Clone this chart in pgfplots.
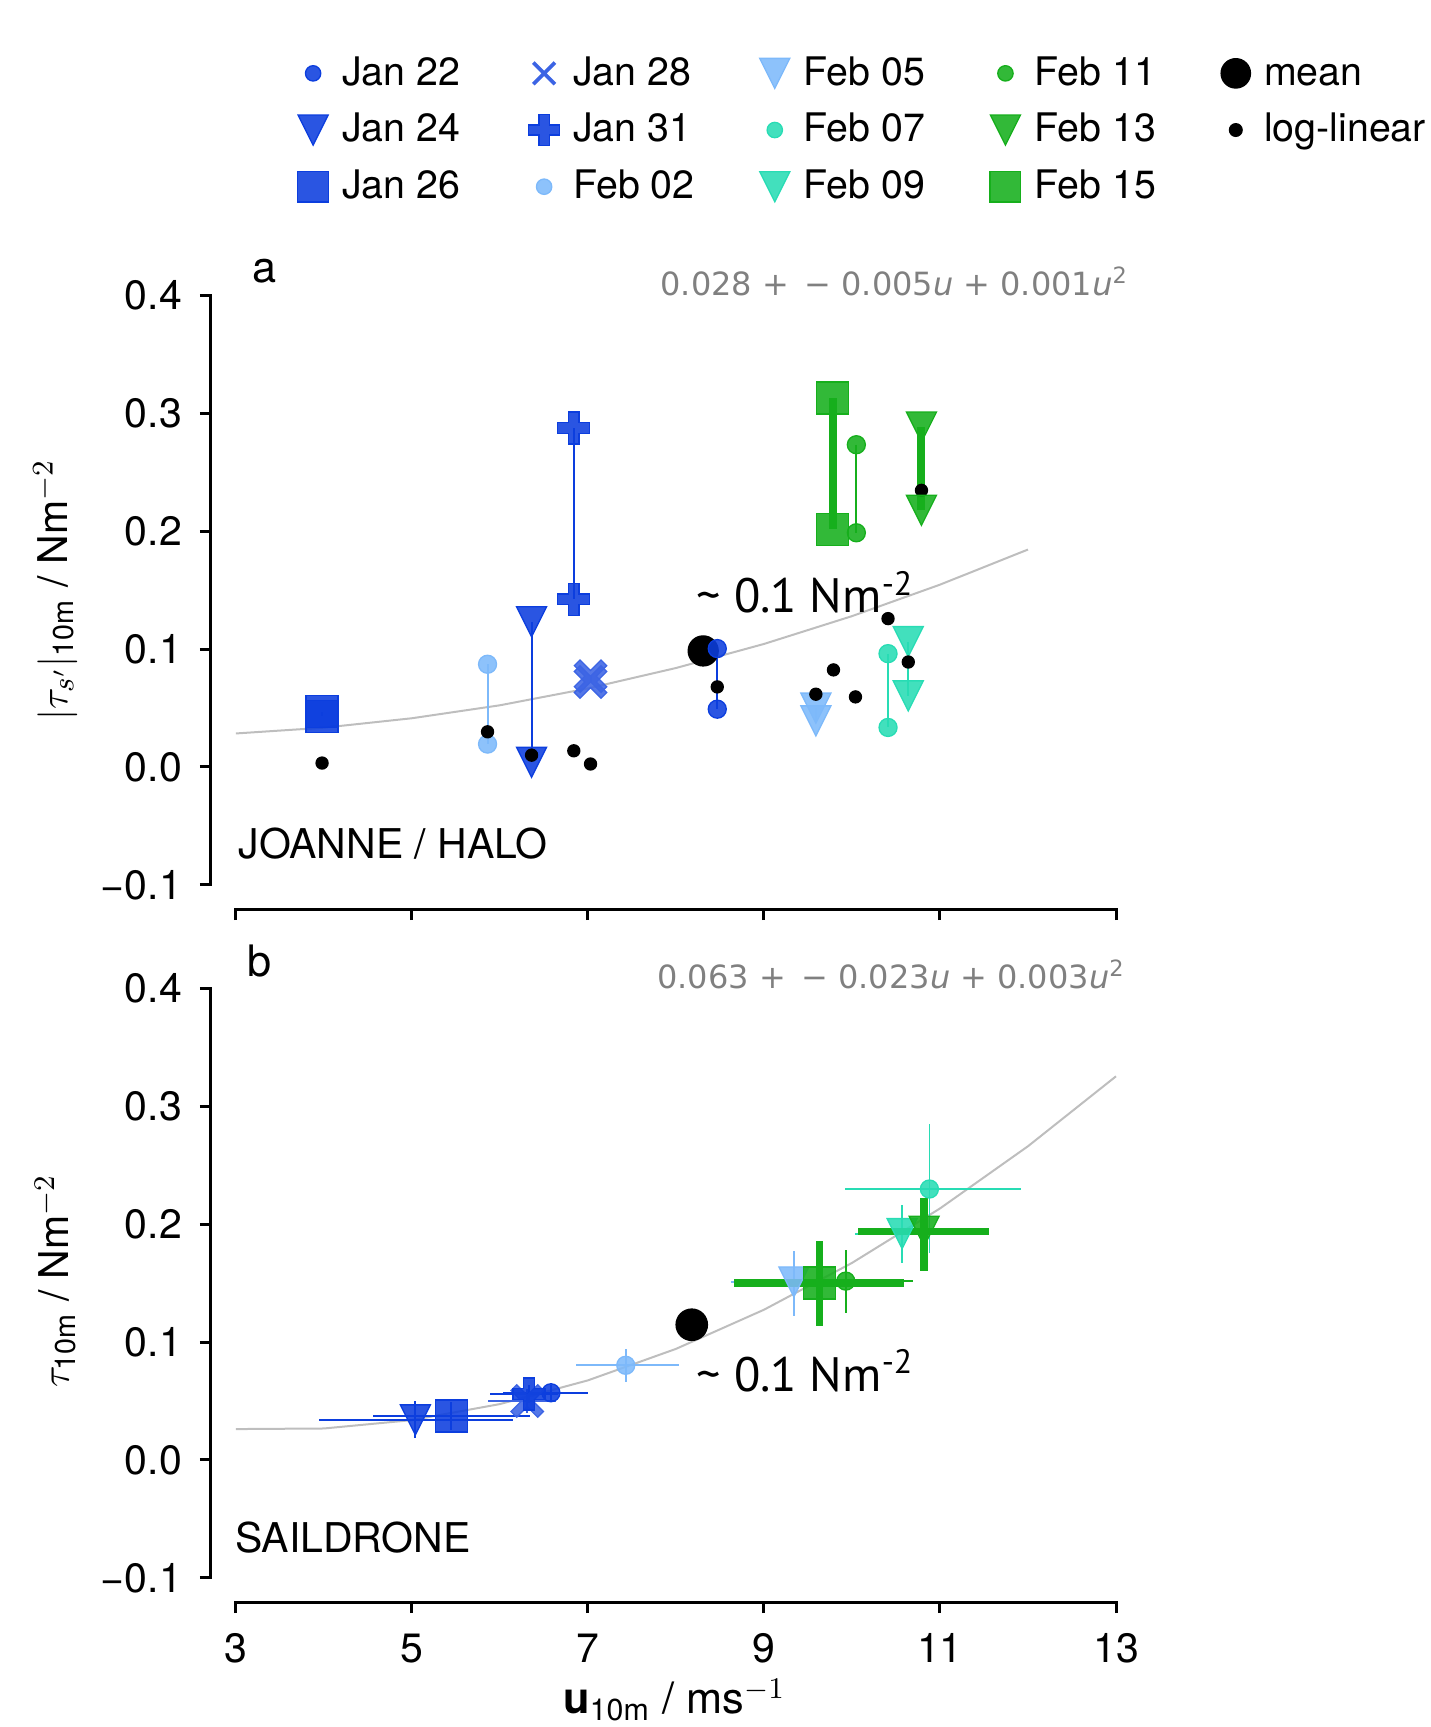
\documentclass[border=0pt]{standalone}
\usepackage{fontspec}
\setmainfont{TeX Gyre Heros}
\newfontfamily\dejavu{DejaVu Sans}
\newfontfamily\ptsans{PT Sans}
\usepackage{amsmath}
\usepackage{pgfplots}
\pgfplotsset{compat=1.18}

\definecolor{cblue}{RGB}{12,62,222}
\definecolor{cxblue}{RGB}{60,100,228}
\definecolor{clight}{RGB}{125,185,250}
\definecolor{cturq}{RGB}{40,220,180}
\definecolor{cgreen}{RGB}{22,175,28}
\definecolor{cfit}{RGB}{190,190,190}
\definecolor{cform}{RGB}{128,128,128}

\pgfdeclareplotmark{vtri}{%
 \pgfpathmoveto{\pgfqpoint{0pt}{-\pgfplotmarksize}}%
 \pgfpathlineto{\pgfqpoint{-\pgfplotmarksize}{\pgfplotmarksize}}%
 \pgfpathlineto{\pgfqpoint{\pgfplotmarksize}{\pgfplotmarksize}}%
 \pgfpathclose\pgfusepathqfillstroke}
\pgfdeclareplotmark{Pplus}{%
 \pgfpathmoveto{\pgfqpoint{-0.333\pgfplotmarksize}{-\pgfplotmarksize}}%
 \pgfpathlineto{\pgfqpoint{0.333\pgfplotmarksize}{-\pgfplotmarksize}}%
 \pgfpathlineto{\pgfqpoint{0.333\pgfplotmarksize}{-0.333\pgfplotmarksize}}%
 \pgfpathlineto{\pgfqpoint{\pgfplotmarksize}{-0.333\pgfplotmarksize}}%
 \pgfpathlineto{\pgfqpoint{\pgfplotmarksize}{0.333\pgfplotmarksize}}%
 \pgfpathlineto{\pgfqpoint{0.333\pgfplotmarksize}{0.333\pgfplotmarksize}}%
 \pgfpathlineto{\pgfqpoint{0.333\pgfplotmarksize}{\pgfplotmarksize}}%
 \pgfpathlineto{\pgfqpoint{-0.333\pgfplotmarksize}{\pgfplotmarksize}}%
 \pgfpathlineto{\pgfqpoint{-0.333\pgfplotmarksize}{0.333\pgfplotmarksize}}%
 \pgfpathlineto{\pgfqpoint{-\pgfplotmarksize}{0.333\pgfplotmarksize}}%
 \pgfpathlineto{\pgfqpoint{-\pgfplotmarksize}{-0.333\pgfplotmarksize}}%
 \pgfpathlineto{\pgfqpoint{-0.333\pgfplotmarksize}{-0.333\pgfplotmarksize}}%
 \pgfpathclose\pgfusepathqfillstroke}
\pgfdeclareplotmark{Xfill}{%
 \pgfpathmoveto{\pgfqpoint{0pt}{0.34\pgfplotmarksize}}%
 \pgfpathlineto{\pgfqpoint{0.63\pgfplotmarksize}{0.97\pgfplotmarksize}}%
 \pgfpathlineto{\pgfqpoint{0.97\pgfplotmarksize}{0.63\pgfplotmarksize}}%
 \pgfpathlineto{\pgfqpoint{0.34\pgfplotmarksize}{0pt}}%
 \pgfpathlineto{\pgfqpoint{0.97\pgfplotmarksize}{-0.63\pgfplotmarksize}}%
 \pgfpathlineto{\pgfqpoint{0.63\pgfplotmarksize}{-0.97\pgfplotmarksize}}%
 \pgfpathlineto{\pgfqpoint{0pt}{-0.34\pgfplotmarksize}}%
 \pgfpathlineto{\pgfqpoint{-0.63\pgfplotmarksize}{-0.97\pgfplotmarksize}}%
 \pgfpathlineto{\pgfqpoint{-0.97\pgfplotmarksize}{-0.63\pgfplotmarksize}}%
 \pgfpathlineto{\pgfqpoint{-0.34\pgfplotmarksize}{0pt}}%
 \pgfpathlineto{\pgfqpoint{-0.97\pgfplotmarksize}{0.63\pgfplotmarksize}}%
 \pgfpathlineto{\pgfqpoint{-0.63\pgfplotmarksize}{0.97\pgfplotmarksize}}%
 \pgfpathclose\pgfusepathqfillstroke}

\newcommand{\lbl}[1]{\makebox[40pt][l]{#1\vphantom{Jg}}}

\pgfplotsset{
  panel/.style={
    scale only axis, width=271.5pt, height=184.1pt,
    xmin=2.718, xmax=13, ymin=-0.1205, ymax=0.4,
    axis x line*=bottom, axis y line*=left, axis line style={draw=none},
    tick align=outside, major tick length=3.3pt,
    tick style={line width=0.9pt, black},
    xtick={3,5,7,9,11,13}, ytick={-0.1,0,0.1,0.2,0.3,0.4},
    yticklabels={−0.1,0.0,0.1,0.2,0.3,0.4},
    tick label style={font=\fontsize{12.3}{14}\selectfont},
    yticklabel style={xshift=-1.9pt},
    label style={font=\fontsize{12.3}{14}\selectfont},
    clip=false,
  },
  mk/.style={mark options={solid, fill opacity=0.88, line width=0.4pt}},
  lm/.style={only marks, legend image code/.code={\draw[mark repeat=2,mark phase=2,##1] plot coordinates {(0pt,0pt)(4.5pt,0pt)(9pt,0pt)};}},
  eb/.style={only marks, forget plot,
    error bars/x dir=both, error bars/x explicit,
    error bars/y dir=both, error bars/y explicit,
    error bars/error mark=none,
    error bars/error bar style={line width=#1, solid}},
}

\begin{document}
\begin{tikzpicture}
\useasboundingbox (-63.3pt,-429.5pt) rectangle (365.7pt,88.6pt);

% ---------------- panel a ----------------
\begin{axis}[panel, at={(0pt,0pt)}, anchor=north west,
  xticklabels={},
  ylabel={$|\tau_{s'}|_{\text{10m}}$ / Nm$^{-2}$},
  ylabel style={at={(rel axis cs:-0.172,0.52)}, anchor=center},
  legend columns=5, legend cell align=left,
  legend style={draw=none, fill=none, at={(rel axis cs:0.0959,1.40)}, anchor=north west,
    inner sep=0pt, outer sep=0pt, row sep=2.9pt,
    font=\fontsize{11.8}{14}\selectfont, nodes={inner sep=2pt},
    /tikz/every odd column/.append style={column sep=2.1pt},
    /tikz/every even column/.append style={column sep=14.0pt}},
]
\addlegendimage{lm, mark=*, cblue, mark size=2.3pt, mk}
\addlegendentry{\lbl{Jan 22}}
\addlegendimage{lm, mark=x, cxblue, mark size=4.6pt, mark options={line width=1.1pt}}
\addlegendentry{\lbl{Jan 28}}
\addlegendimage{lm, mark=vtri, clight, mark size=4.5pt, mk}
\addlegendentry{\lbl{Feb 05}}
\addlegendimage{lm, mark=*, cgreen, mark size=2.3pt, mk}
\addlegendentry{\lbl{Feb 11}}
\addlegendimage{lm, mark=*, black, mark size=4.4pt}
\addlegendentry{mean\vphantom{Jg}}
\addlegendimage{lm, mark=vtri, cblue, mark size=4.5pt, mk}
\addlegendentry{\lbl{Jan 24}}
\addlegendimage{lm, mark=Pplus, cblue, mark size=4.6pt, mk}
\addlegendentry{\lbl{Jan 31}}
\addlegendimage{lm, mark=*, cturq, mark size=2.3pt, mk}
\addlegendentry{\lbl{Feb 07}}
\addlegendimage{lm, mark=vtri, cgreen, mark size=4.5pt, mk}
\addlegendentry{\lbl{Feb 13}}
\addlegendimage{lm, mark=*, black, mark size=1.9pt}
\addlegendentry{log-linear\vphantom{J}}
\addlegendimage{lm, mark=square*, cblue, mark size=4.6pt, mk}
\addlegendentry{\lbl{Jan 26}}
\addlegendimage{lm, mark=*, clight, mark size=2.3pt, mk}
\addlegendentry{\lbl{Feb 02}}
\addlegendimage{lm, mark=vtri, cturq, mark size=4.5pt, mk}
\addlegendentry{\lbl{Feb 09}}
\addlegendimage{lm, mark=square*, cgreen, mark size=4.6pt, mk}
\addlegendentry{\lbl{Feb 15}}

% quadratic fit
\addplot[cfit, line width=0.6pt, forget plot] coordinates {(3,0.0284)(4,0.0333)(5,0.0413)(6,0.0523)(7,0.0666)(8,0.0839)(9,0.1043)(10,0.1279)(11,0.1546)(12,0.1844)};
% mean
\addplot[only marks, mark=*, black, mark size=4.5pt, forget plot] coordinates {(8.31,0.0984)};
% days
\addplot[cblue, line width=0.6pt, mk, mark=square*, mark size=4.8pt, forget plot] coordinates {(3.98,0.047)(3.98,0.043)};
\addplot[clight, line width=0.6pt, mk, mark=*, mark size=2.7pt, forget plot] coordinates {(5.86,0.0871)(5.86,0.0194)};
\addplot[cblue, line width=0.6pt, mk, mark=vtri, mark size=4.5pt, forget plot] coordinates {(6.36,0.1232)(6.36,0.0039)};
\addplot[cblue, line width=0.6pt, mk, mark=Pplus, mark size=4.8pt, forget plot] coordinates {(6.84,0.2874)(6.84,0.1421)};
\addplot[cxblue, line width=0.6pt, mk, mark=Xfill, mark size=5pt, forget plot] coordinates {(7.03,0.077)(7.03,0.072)};
\addplot[cblue, line width=0.6pt, mk, mark=*, mark size=2.7pt, forget plot] coordinates {(8.47,0.1004)(8.47,0.049)};
\addplot[clight, line width=0.6pt, mk, mark=vtri, mark size=4.5pt, forget plot] coordinates {(9.59,0.0499)(9.59,0.0391)};
\addplot[cturq, line width=0.6pt, mk, mark=*, mark size=2.7pt, forget plot] coordinates {(10.41,0.0961)(10.41,0.0335)};
\addplot[cturq, line width=0.6pt, mk, mark=vtri, mark size=4.5pt, forget plot] coordinates {(10.64,0.1063)(10.64,0.0603)};
\addplot[cgreen, line width=0.6pt, mk, mark=*, mark size=2.7pt, forget plot] coordinates {(10.05,0.2733)(10.05,0.1986)};
% log-linear
\addplot[only marks, mark=*, black, mark size=1.8pt, forget plot] coordinates {(3.98,0.0033)(5.86,0.0298)(6.36,0.010)(6.84,0.0137)(7.03,0.0025)(8.47,0.0679)(9.59,0.0617)(9.79,0.0823)(10.04,0.0594)(10.41,0.1258)(10.64,0.089)(10.79,0.2346)};
\addplot[cgreen, line width=2.4pt, mk, mark=vtri, mark size=4.5pt, forget plot] coordinates {(10.79,0.2883)(10.79,0.2177)};
\addplot[cgreen, line width=2.4pt, mk, mark=square*, mark size=4.8pt, forget plot] coordinates {(9.78,0.3128)(9.78,0.2014)};

\draw[line width=0.9pt, line cap=rect] (axis cs:2.718,-0.1) -- (axis cs:2.718,0.4);
\draw[line width=0.9pt, line cap=rect] (axis cs:3,-0.1205) -- (axis cs:13,-0.1205);
\node[anchor=base, font=\fontsize{13}{15}\selectfont] at (rel axis cs:0.059,1.0217) {a};
\node[anchor=base east, inner sep=0pt, text=cform, font=\dejavu\fontsize{9.6}{11}\selectfont] at (rel axis cs:1.0145,1.0) {0.028 + \,− 0.005\textit{u} + 0.001\textit{u}\textsuperscript{2}};
\node[anchor=base west, inner sep=0pt, font=\fontsize{12.3}{14}\selectfont] at (rel axis cs:0.0298,0.083) {JOANNE / HALO};
\node[anchor=base west, inner sep=0pt, font=\ptsans\fontsize{14.5}{16}\selectfont] at (rel axis cs:0.536,0.483) {\textasciitilde{} 0.1 Nm\textsuperscript{-2}};
\end{axis}

% ---------------- panel b ----------------
\begin{axis}[panel, at={(0pt,-207.9pt)}, anchor=north west,
  xticklabels={3,5,7,9,11,13},
  xticklabel style={yshift=-2.7pt},
  ylabel={$\tau_{\text{10m}}$ / Nm$^{-2}$},
  ylabel style={at={(rel axis cs:-0.172,0.523)}, anchor=center},
  xlabel={\textbf{u}$_{\text{10m}}$ / ms$^{-1}$},
  xlabel style={at={(rel axis cs:0.512,-0.181)}, anchor=base, font=\fontsize{13}{15}\selectfont},
]
\addplot[cfit, line width=0.6pt, forget plot] coordinates {(3,0.0262)(4,0.0267)(5,0.0338)(6,0.0474)(7,0.0675)(8,0.0942)(9,0.1274)(10,0.1671)(11,0.2133)(12,0.2661)(13,0.3254)};
\addplot[only marks, mark=*, black, mark size=4.7pt, forget plot] coordinates {(8.18,0.1147)};

\addplot[eb=0.6pt, cblue, mk, mark=*, mark size=2.7pt] coordinates {(6.58,0.057) += (0.42,0.007) -= (0.55,0.007)};
\addplot[eb=0.6pt, cblue, mk, mark=vtri, mark size=4.5pt] coordinates {(5.04,0.034) += (1.11,0.016) -= (1.10,0.015)};
\addplot[eb=0.6pt, cblue, mk, mark=square*, mark size=4.8pt] coordinates {(5.45,0.0374) += (0.89,0.012) -= (0.89,0.012)};
\addplot[eb=0.6pt, cxblue, mk, mark=Xfill, mark size=5pt] coordinates {(6.31,0.050) += (0.33,0.01) -= (0.45,0.01)};
\addplot[eb=0.6pt, cblue, mk, mark=Pplus, mark size=4.8pt] coordinates {(6.33,0.056) += (0.33,0.008) -= (0.44,0.008)};
\addplot[eb=0.5pt, clight, mk, mark=*, mark size=2.7pt] coordinates {(7.43,0.0803) += (0.60,0.0141) -= (0.56,0.0141)};
\addplot[eb=0.6pt, clight, mk, mark=vtri, mark size=4.5pt] coordinates {(9.34,0.151) += (0.66,0.026) -= (0.71,0.029)};
\addplot[eb=0.5pt, cturq, mk, mark=*, mark size=2.7pt] coordinates {(10.88,0.2298) += (1.04,0.0553) -= (0.96,0.0541)};
\addplot[eb=0.6pt, cturq, mk, mark=vtri, mark size=4.5pt] coordinates {(10.57,0.192) += (0.5,0.0246) -= (0.54,0.0248)};
\addplot[eb=0.6pt, cgreen, mk, mark=*, mark size=2.7pt] coordinates {(9.93,0.1517) += (0.76,0.0268) -= (0.73,0.0268)};
\addplot[eb=2.2pt, cgreen, mk, mark=vtri, mark size=4.5pt] coordinates {(10.82,0.194) += (0.74,0.028) -= (0.75,0.034)};
\addplot[eb=2.2pt, cgreen, mk, mark=square*, mark size=4.8pt] coordinates {(9.63,0.150) += (0.96,0.0355) -= (0.97,0.0364)};

\draw[line width=0.9pt, line cap=rect] (axis cs:2.718,-0.1) -- (axis cs:2.718,0.4);
\draw[line width=0.9pt, line cap=rect] (axis cs:3,-0.1205) -- (axis cs:13,-0.1205);
\node[anchor=base, font=\fontsize{13}{15}\selectfont] at (rel axis cs:0.054,1.02) {b};
\node[anchor=base east, inner sep=0pt, text=cform, font=\dejavu\fontsize{9.6}{11}\selectfont] at (rel axis cs:1.011,1.0) {0.063 + \,− 0.023\textit{u} + 0.003\textit{u}\textsuperscript{2}};
\node[anchor=base west, inner sep=0pt, font=\fontsize{12.3}{14}\selectfont] at (rel axis cs:0.026,0.0813) {SAILDRONE};
\node[anchor=base west, inner sep=0pt, font=\ptsans\fontsize{14.5}{16}\selectfont] at (rel axis cs:0.536,0.3436) {\textasciitilde{} 0.1 Nm\textsuperscript{-2}};
\end{axis}
\end{tikzpicture}
\end{document}
